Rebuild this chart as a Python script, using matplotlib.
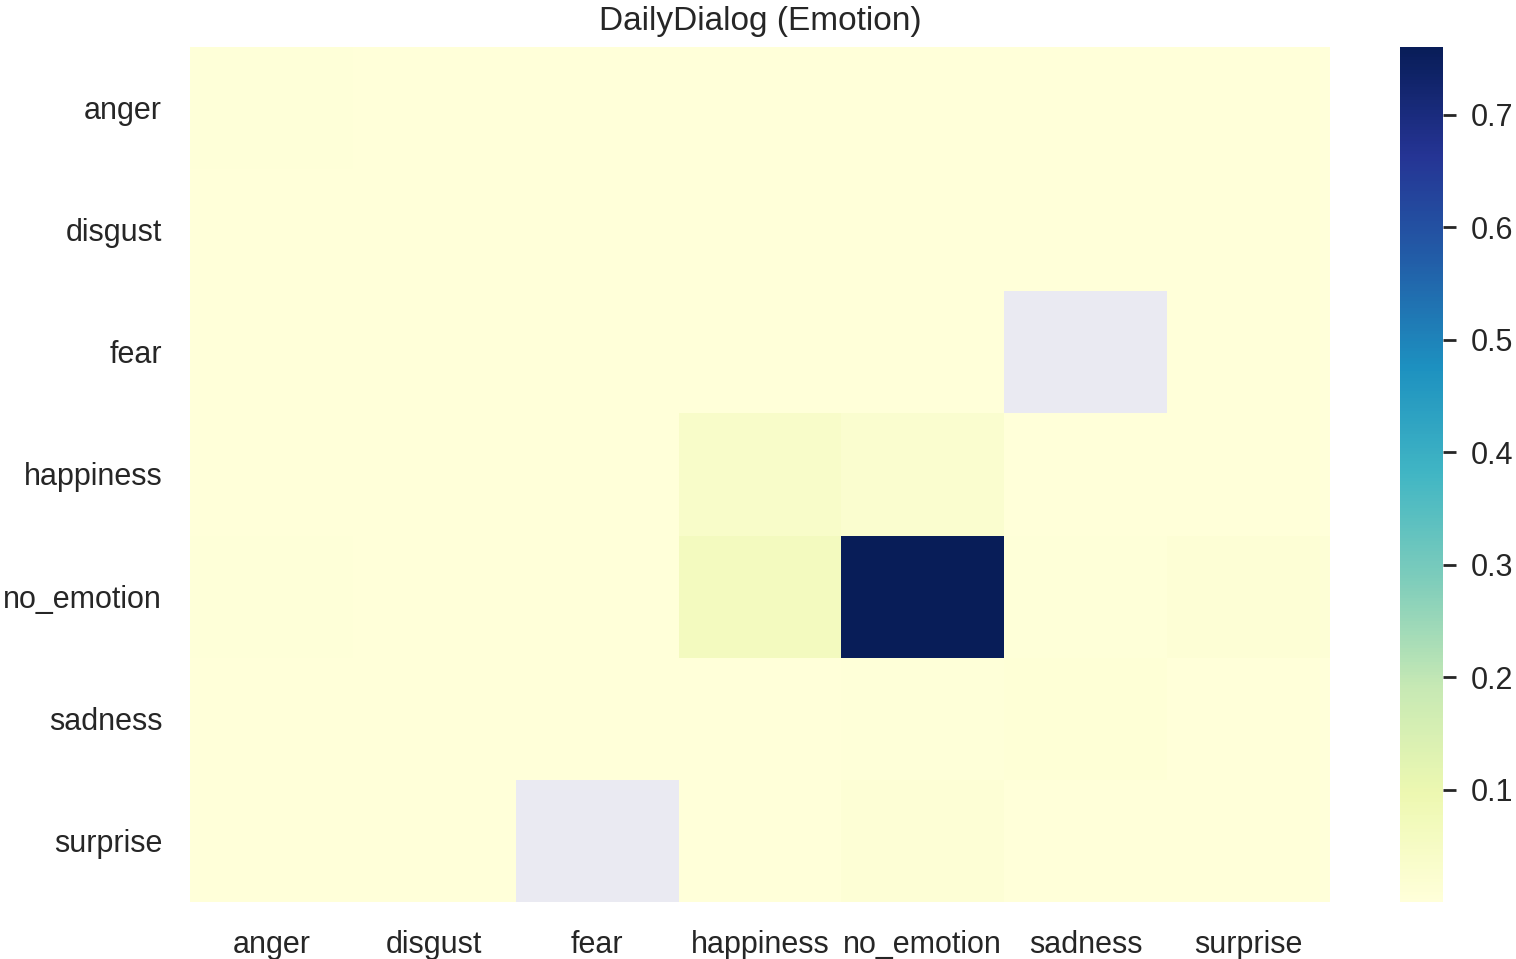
import numpy as np
import matplotlib
matplotlib.use("Agg")
import matplotlib.pyplot as plt
import matplotlib.transforms as mtransforms
import seaborn as sns
import pandas as pd

labels = ["anger", "disgust", "fear", "happiness", "no_emotion", "sadness", "surprise"]

row_anger      = [0.0040, 0.0005, 0.0005, 0.0010, 0.0030, 0.0010, 0.0010]
row_disgust    = [0.0010, 0.0005, 0.0005, 0.0010, 0.0015, 0.0005, 0.0005]
row_fear       = [0.0005, 0.0005, 0.0005, 0.0010, 0.0015, np.nan, 0.0005]
row_happiness  = [0.0020, 0.0005, 0.0005, 0.0420, 0.0250, 0.0020, 0.0030]
row_no_emotion = [0.0060, 0.0010, 0.0010, 0.0650, 0.7600, 0.0060, 0.0110]
row_sadness    = [0.0010, 0.0005, 0.0005, 0.0020, 0.0060, 0.0070, 0.0010]
row_surprise   = [0.0020, 0.0005, np.nan, 0.0030, 0.0100, 0.0030, 0.0030]

data = pd.DataFrame([row_anger, row_disgust, row_fear, row_happiness,
                     row_no_emotion, row_sadness, row_surprise],
                    index=labels, columns=labels)

sns.set_theme(style="darkgrid", context="talk")
plt.rcParams['font.family'] = ['Arial', 'Liberation Sans', 'DejaVu Sans']

fig = plt.figure(figsize=(15.16, 9.59), dpi=100)
W, H = 1516, 959
ax = fig.add_axes([190 / W, 1 - 902 / H, (1330 - 190) / W, (902 - 47) / H])
cax = fig.add_axes([1400 / W, 1 - 902 / H, (1443 - 1400) / W, (902 - 47) / H])

sns.heatmap(data, cmap="YlGnBu", ax=ax, cbar_ax=cax)
ax.grid(False)
ax.set_title("DailyDialog (Emotion)", fontsize=24, pad=12)
ax.set_yticklabels(labels, rotation=0)
ax.set_xticklabels(labels, rotation=0)
ax.tick_params(axis='both', labelsize=22, length=0, pad=20)
offset = mtransforms.ScaledTranslation(0, -3 / 100, fig.dpi_scale_trans)
for lab in ax.get_yticklabels():
    lab.set_transform(lab.get_transform() + offset)
cax.tick_params(labelsize=22, length=9, width=2, pad=11, color='#262626')

fig.savefig("out.png", dpi=100)
